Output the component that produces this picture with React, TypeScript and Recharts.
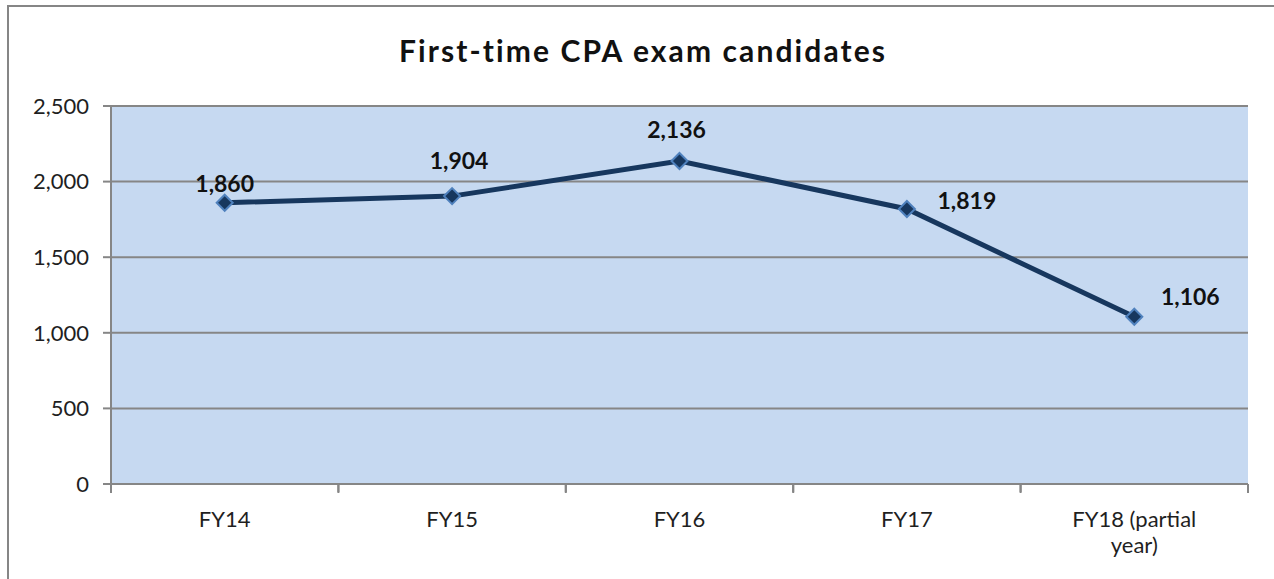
import React from 'react'
import { CartesianGrid, LabelList, Line, LineChart, XAxis, YAxis } from 'recharts'

const categories = ['FY14', 'FY15', 'FY16', 'FY17', 'FY18 (partial year)']
const candidates = [1860, 1904, 2136, 1819, 1106]
const yTicks = [0, 500, 1000, 1500, 2000, 2500]
const bandEdges = [0, 1, 2, 3, 4, 5]

// label nudges (dx, dy) from each point, matching where Excel put them
const labelOffsets = [
  [0, -20],
  [7, -36],
  [-3, -32],
  [60, -9],
  [56, -21],
]

const FONT = 'Lato, "Open Sans", sans-serif'
const TEXT = '#1F1F1F'
const GRID = '#868686'

function wrapWords(s: string, maxChars: number) {
  const lines: string[] = []
  let cur = ''
  for (const w of s.split(' ')) {
    const next = cur ? cur + ' ' + w : w
    if (next.length > maxChars && cur) {
      lines.push(cur)
      cur = w
    } else {
      cur = next
    }
  }
  if (cur) lines.push(cur)
  return lines
}

function Diamond(props: any) {
  const { cx, cy } = props
  if (cx == null || cy == null) return null
  const r = 8
  return (
    <polygon
      points={`${cx},${cy - r} ${cx + r},${cy} ${cx},${cy + r} ${cx - r},${cy}`}
      fill="#17375E"
      stroke="#4F81BD"
      strokeWidth={2}
    />
  )
}

function ValueLabel(props: any) {
  const { x, y, value, index } = props
  const [dx, dy] = labelOffsets[index] || [0, -20]
  return (
    <text
      x={x + dx}
      y={y + dy}
      textAnchor="middle"
      dominantBaseline="central"
      fontFamily={FONT}
      fontWeight={700}
      fontSize={23}
      fill="#111"
    >
      {Number(value).toLocaleString('en-US')}
    </text>
  )
}

function CategoryTick(props: any) {
  const { x, y, payload } = props
  const lines = wrapWords(String(payload.value), 13)
  return (
    <text x={x} y={y + 19} textAnchor="middle" fontFamily={FONT} fontSize={22} fill={TEXT}>
      {lines.map((ln, i) => (
        <tspan key={i} x={x} dy={i === 0 ? '0.71em' : 26}>
          {ln}
        </tspan>
      ))}
    </text>
  )
}

// band-edge axis: only the little tick marks, no labels
function EdgeTick(props: any) {
  const { x, y } = props
  return <line x1={x} x2={x} y1={y - 9} y2={y - 1} stroke={GRID} strokeWidth={2} />
}

export default function App() {
  const chartData = categories.map((name, i) => ({ name, slot: i + 0.5, value: candidates[i] }))

  return (
    <div style={{ position: 'relative', width: 1274, height: 579, overflow: 'hidden', background: '#fff' }}>
      <style>{'body{margin:0}'}</style>
      <div
        style={{
          position: 'absolute',
          left: 7,
          top: 5,
          width: 1300,
          height: 600,
          borderLeft: `2px solid ${GRID}`,
          borderTop: `2px solid ${GRID}`,
        }}
      />
      <div
        style={{
          position: 'absolute',
          left: 0,
          top: 31,
          width: 1286,
          textAlign: 'center',
          fontFamily: FONT,
          fontWeight: 700,
          fontSize: 30,
          letterSpacing: 2.1,
          lineHeight: '38px',
          color: '#111',
        }}
      >
        First-time CPA exam candidates
      </div>
      <LineChart
        width={1274}
        height={579}
        data={chartData}
        margin={{ top: 106, right: 26, bottom: 0, left: 0 }}
        style={{ position: 'absolute', left: 0, top: 0 }}
      >
        <CartesianGrid vertical={false} fill="#C6D9F1" fillOpacity={1} stroke={GRID} strokeWidth={2} />
        <XAxis
          dataKey="name"
          scale="band"
          height={1}
          axisLine={{ stroke: GRID, strokeWidth: 2 }}
          tickLine={false}
          tick={<CategoryTick />}
          interval={0}
        />
        <XAxis
          xAxisId="edges"
          dataKey="slot"
          type="number"
          domain={[0, 5]}
          ticks={bandEdges}
          interval={0}
          height={94}
          axisLine={false}
          tickLine={{ stroke: GRID, strokeWidth: 2 }}
          tickSize={8}
          tickMargin={0}
          tick={<EdgeTick />}
        />
        <YAxis
          width={111}
          domain={[0, 2500]}
          ticks={yTicks}
          axisLine={{ stroke: GRID, strokeWidth: 2 }}
          tickLine={{ stroke: GRID, strokeWidth: 2 }}
          tickSize={8}
          tickMargin={14}
          tickFormatter={(v: number) => v.toLocaleString('en-US')}
          tick={{ fontFamily: FONT, fontSize: 22, fill: TEXT }}
        />
        {/* invisible series so the band-edge axis gets drawn */}
        <Line
          xAxisId="edges"
          dataKey="value"
          stroke="none"
          dot={false}
          activeDot={false}
          legendType="none"
          isAnimationActive={false}
        />
        <Line
          dataKey="value"
          stroke="#17375E"
          strokeWidth={5}
          dot={<Diamond />}
          activeDot={false}
          isAnimationActive={false}
        >
          <LabelList dataKey="value" content={<ValueLabel />} />
        </Line>
      </LineChart>
    </div>
  )
}
